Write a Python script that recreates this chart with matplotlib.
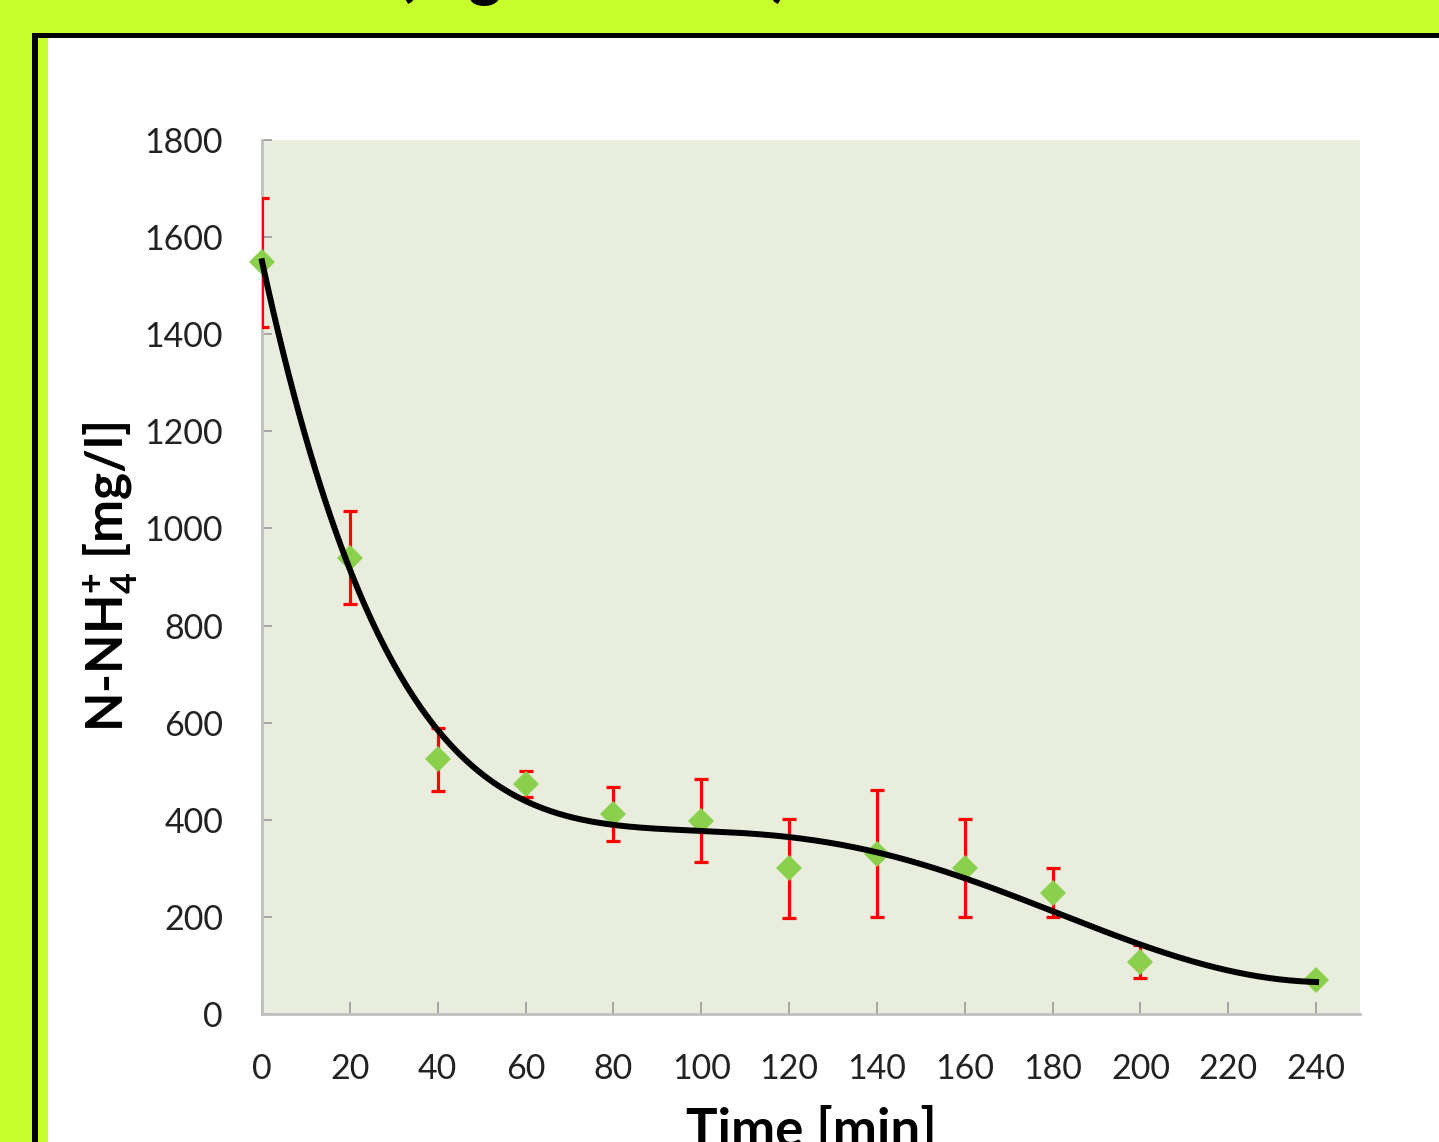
import matplotlib
matplotlib.use("Agg")
import matplotlib.pyplot as plt
import numpy as np
from matplotlib.patches import Rectangle

# measured N-NH4+ concentration over time
time_min = [0, 20, 40, 60, 80, 100, 120, 140, 160, 180, 200, 240]
nh4_mg_l = [1548, 940, 525, 473, 412, 398, 300, 330, 300, 250, 108, 70]
nh4_err = [133, 96, 65, 27, 55, 85, 102, 131, 101, 50, 34, 6]

x_ticks = list(range(0, 241, 20))
y_ticks = list(range(0, 1801, 200))

W, H = 1439, 1142
LIME = "#c6ff2c"
PLOT_BG = "#e9eddd"
SPINE = "#bfbfbf"

plt.rcParams["font.family"] = ["Lato", "DejaVu Sans"]
plt.rcParams["mathtext.fontset"] = "custom"
plt.rcParams["mathtext.bf"] = "Lato:bold"
plt.rcParams["mathtext.rm"] = "Lato"

fig = plt.figure(figsize=(W / 100, H / 100), dpi=100, facecolor=LIME)


def _px_rect(x0, y0, x1, y1, color, z):
    # pixel box measured from the top-left corner
    fig.add_artist(Rectangle((x0 / W, 1 - y1 / H), (x1 - x0) / W, (y1 - y0) / H,
                             transform=fig.transFigure, facecolor=color,
                             edgecolor="none", zorder=z))


# poster frame: black rule on top/left, white panel inside
_px_rect(48, 38, W, H, "white", 0)
_px_rect(32, 33, W, 38, "black", 1)
_px_rect(32, 33, 38, H, "black", 1)

# heading of the poster box, mostly outside the crop
fig.text(0.276, 1.005, "(mg N-NH4/l)", fontsize=46, fontweight="bold",
         ha="left", va="baseline", color="black")

ax = fig.add_axes([262 / W, 1 - 1014 / H, (1360 - 262) / W, (1014 - 140) / H])
ax.set_facecolor(PLOT_BG)

# error bars sit above the spines, markers above the bars
ax.errorbar(time_min, nh4_mg_l, yerr=nh4_err, fmt="none", ecolor="#ff0000",
            elinewidth=2.3, capsize=4.8, capthick=2.3, zorder=2.7)
ax.plot(time_min, nh4_mg_l, linestyle="none", marker="D", markersize=13,
        color="#8ad04c", markeredgewidth=0, zorder=3, clip_on=False)

# 5th order polynomial trendline through the means
fit = np.polynomial.Polynomial.fit(time_min, nh4_mg_l, 5)
xs = np.linspace(min(time_min), max(time_min), 400)
ax.plot(xs, fit(xs), color="black", lw=4.3, zorder=4, clip_on=False)

ax.set_xlim(0, 250)
ax.set_ylim(0, 1800)
ax.set_xticks(x_ticks)
ax.set_yticks(y_ticks)

for side in ("top", "right"):
    ax.spines[side].set_visible(False)
for side in ("left", "bottom"):
    ax.spines[side].set_color(SPINE)
    ax.spines[side].set_linewidth(2.0)

ax.tick_params(axis="both", direction="in", color="#a6a6a6", width=1.4,
               labelsize=24.5, labelcolor="#222222")
ax.tick_params(axis="x", length=9, pad=28)
ax.tick_params(axis="y", length=7, pad=28)

ax.set_xlabel("Time [min]", fontsize=38, fontweight="bold", labelpad=15)
ax.set_ylabel(r"N-NH$_{\mathbf{4}}^{\mathbf{+}}$ [mg/l]", fontsize=37,
              fontweight="bold", labelpad=3)

fig.savefig("out.png", dpi=100, facecolor=LIME)
